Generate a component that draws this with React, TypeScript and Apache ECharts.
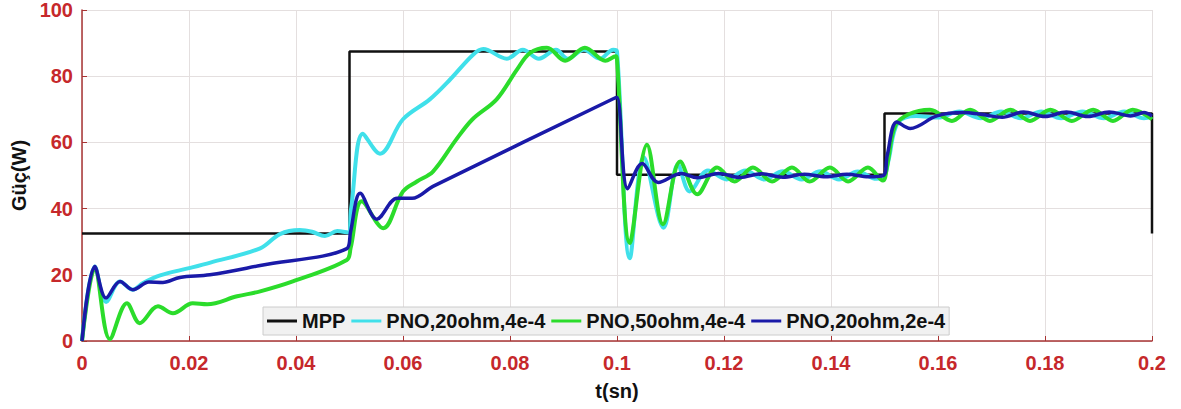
import React, { useEffect, useRef } from "react";
import * as echarts from "echarts";

const xTicks = { min: 0, max: 0.2, interval: 0.02 };
const yTicks = { min: 0, max: 100, interval: 20 };

const seriesNames = ["MPP", "PNO,20ohm,4e-4", "PNO,50ohm,4e-4", "PNO,20ohm,2e-4"];

const mppData = [
  [0, 32.5], [0.05, 32.5], [0.05, 87.5], [0.1, 87.5], [0.1, 50.2],
  [0.15, 50.2], [0.15, 68.7], [0.2, 68.7], [0.2, 32.5],
];

const cyanData = [
  [0, 0], [0.0024, 22.5], [0.0045, 11.8], [0.0071, 18], [0.0095, 15.5], [0.0114, 17.5],
  [0.0146, 19.8], [0.02, 22], [0.024, 23.7], [0.0333, 28], [0.037, 32.3], [0.0407, 33.5],
  [0.043, 33], [0.0454, 31.7], [0.0477, 33.2], [0.0497, 32.8], [0.0503, 40], [0.0525, 62.6],
  [0.0557, 56.6], [0.06, 67], [0.065, 73], [0.0688, 79], [0.0731, 86.5], [0.075, 88.2],
  [0.0794, 85.3], [0.0824, 88], [0.0854, 85.3], [0.0886, 88], [0.0908, 85.3], [0.0938, 88],
  [0.0968, 85.3], [0.0993, 88], [0.1, 87.5], [0.1024, 25], [0.105, 55.5], [0.1087, 34.2],
  [0.1114, 53.3], [0.1136, 45.2], [0.117, 51.5], [0.1205, 48.8], [0.124, 51.5], [0.1275, 48.8],
  [0.131, 51.3], [0.1345, 48.8], [0.138, 51.3], [0.1415, 48.8], [0.145, 51.2], [0.1485, 49],
  [0.15, 50], [0.1508, 55], [0.1525, 66], [0.156, 68], [0.16, 67.5], [0.164, 69.3],
  [0.168, 67.3], [0.1718, 69.3], [0.1755, 67.3], [0.1793, 69.3], [0.183, 67.3], [0.187, 69.3],
  [0.191, 67.3], [0.1948, 69.3], [0.1985, 67.3], [0.2, 67.8],
];

const greenData = [
  [0, 0], [0.0024, 22], [0.0052, 0.6], [0.0084, 11.4], [0.0108, 5.4], [0.0142, 10.5],
  [0.017, 8.4], [0.0207, 11.4], [0.0234, 11.1], [0.029, 13.5], [0.0333, 15], [0.0394, 18],
  [0.0495, 24.5], [0.0502, 28], [0.0523, 42.2], [0.0563, 34.1], [0.06, 45.2], [0.0626, 48.2],
  [0.0656, 51.2], [0.07, 61], [0.073, 67], [0.0775, 73], [0.0813, 82], [0.0837, 87],
  [0.0869, 88.6], [0.0903, 84.7], [0.094, 88.6], [0.0978, 84.7], [0.0998, 86], [0.1, 85],
  [0.1024, 29.6], [0.1056, 59.3], [0.1086, 35.3], [0.1118, 54.2], [0.115, 44.3], [0.1187, 52.4],
  [0.122, 48.2], [0.1254, 52.4], [0.129, 48.2], [0.1327, 52.4], [0.136, 48.2], [0.1398, 52.4],
  [0.1432, 48.2], [0.1469, 52.4], [0.1497, 48.5], [0.1505, 53], [0.152, 65], [0.1545, 68.5],
  [0.1585, 69.9], [0.1626, 66.5], [0.166, 69.9], [0.1697, 66.5], [0.1735, 69.9], [0.1772, 66.5],
  [0.181, 69.9], [0.185, 66.5], [0.189, 69.9], [0.1927, 66.5], [0.1964, 69.9], [0.2, 67],
];

const blueData = [
  [0, 0], [0.0024, 22.5], [0.0045, 13], [0.0071, 18], [0.0095, 15.5], [0.0125, 17.8],
  [0.0151, 17.7], [0.0183, 19.2], [0.0239, 20], [0.0333, 22.8], [0.0495, 27.9], [0.0502, 33],
  [0.052, 44.6], [0.0551, 36.8], [0.0589, 43.1], [0.0617, 43.1], [0.0656, 46.7], [0.0993, 73.2],
  [0.1, 73.6], [0.102, 46], [0.1047, 53.6], [0.1077, 47.9], [0.112, 50.6], [0.115, 49.3],
  [0.119, 50.6], [0.123, 49.4], [0.127, 50.5], [0.131, 49.5], [0.135, 50.4], [0.139, 49.6],
  [0.143, 50.4], [0.147, 49.6], [0.1498, 50], [0.1505, 56], [0.1523, 66.2], [0.1548, 64.2],
  [0.1598, 68], [0.1647, 69], [0.168, 68.5], [0.172, 67.6], [0.176, 69.2], [0.18, 67.8],
  [0.184, 69.2], [0.188, 67.8], [0.192, 69.2], [0.196, 68], [0.1985, 69], [0.2, 68],
];

const FONT = "'Liberation Sans', Arial, sans-serif";
const RED = "#c6282b";

export default function App() {
  const ref = useRef<HTMLDivElement>(null);
  useEffect(() => {
    if (!ref.current) return;
    const chart = echarts.init(ref.current, undefined, { renderer: "svg" });
    chart.setOption({
      animation: false,
      backgroundColor: "#ffffff",
      grid: { left: 82, right: 29, top: 7, bottom: 68 },
      legend: {
        left: 263,
        top: 307,
        data: seriesNames,
        icon: "rect",
        itemWidth: 30,
        itemHeight: 3,
        itemGap: 6,
        padding: [3, 4],
        backgroundColor: "#f1f1f1",
        borderColor: "#cccccc",
        borderWidth: 1,
        borderRadius: 0,
        textStyle: { color: "#111", fontSize: 20, fontWeight: "bold", fontFamily: FONT, lineHeight: 22 },
      },
      xAxis: {
        type: "value",
        min: xTicks.min,
        max: xTicks.max,
        interval: xTicks.interval,
        name: "t(sn)",
        nameLocation: "middle",
        nameGap: 40,
        nameTextStyle: { color: "#111", fontSize: 20, fontWeight: "bold", fontFamily: FONT },
        axisLine: { onZero: false, lineStyle: { color: "#a83434", width: 1.5 } },
        axisTick: { inside: true, length: 5, lineStyle: { color: "#a83434" } },
        axisLabel: {
          color: RED, fontSize: 20, fontWeight: "bold", fontFamily: FONT, margin: 12,
          formatter: (v: number) => String(parseFloat(v.toFixed(4))),
        },
        splitLine: { show: true, lineStyle: { color: "#e4dfdf", width: 1 } },
      },
      yAxis: {
        type: "value",
        min: yTicks.min,
        max: yTicks.max,
        interval: yTicks.interval,
        name: "Güç(W)",
        nameLocation: "middle",
        nameGap: 48,
        nameTextStyle: { color: "#111", fontSize: 20, fontWeight: "bold", fontFamily: FONT },
        axisLine: { show: true, lineStyle: { color: "#a83434", width: 1.5 } },
        axisTick: { show: true, inside: true, length: 5, lineStyle: { color: "#a83434" } },
        axisLabel: { color: RED, fontSize: 20, fontWeight: "bold", fontFamily: FONT, margin: 9 },
        splitLine: { show: true, lineStyle: { color: "#e4dfdf", width: 1 } },
      },
      series: [
        {
          name: seriesNames[0], type: "line", data: mppData, symbol: "none",
          lineStyle: { color: "#111111", width: 2.5 }, itemStyle: { color: "#111111" },
        },
        {
          name: seriesNames[1], type: "line", data: cyanData, symbol: "none", smooth: 0.35,
          lineStyle: { color: "#40e0ea", width: 4 }, itemStyle: { color: "#40e0ea" },
        },
        {
          name: seriesNames[2], type: "line", data: greenData, symbol: "none", smooth: 0.35,
          lineStyle: { color: "#2bdc2b", width: 4 }, itemStyle: { color: "#2bdc2b" },
        },
        {
          name: seriesNames[3], type: "line", data: blueData, symbol: "none", smooth: 0.35,
          lineStyle: { color: "#1a1aa8", width: 3.5 }, itemStyle: { color: "#1a1aa8" },
        },
      ],
    });
    return () => chart.dispose();
  }, []);
  return (
    <div
      ref={ref}
      style={{ position: "fixed", left: 0, top: 0, width: 1181, height: 409, background: "#fff" }}
    />
  );
}
